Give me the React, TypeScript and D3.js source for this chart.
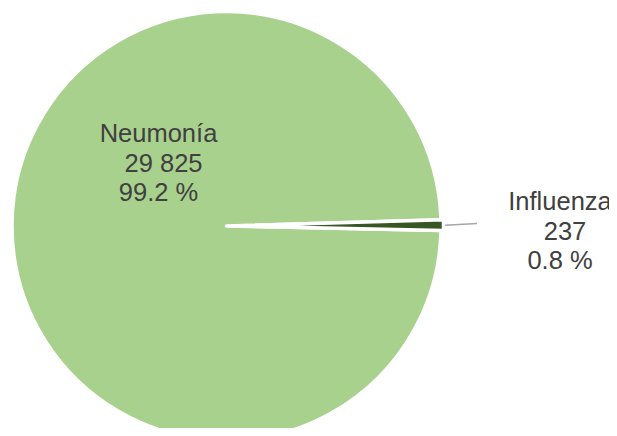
import React from "react";
import * as d3 from "d3";

const categories = ["Neumonía", "Influenza"];
const values = [29825, 237];
const percentLabels = ["99.2 %", "0.8 %"];
const colors = ["#a9d18e", "#375623"];

const W = 617;
const H = 436;

export default function App() {
  const cx = 226.5;
  const cy = 226;
  const r = 214.5;
  const start = (91.2 * Math.PI) / 180;
  const pie = d3
    .pie<number>()
    .sort(null)
    .value((d) => d)
    .startAngle(start)
    .endAngle(start + 2 * Math.PI);
  const arcs = pie(values);
  const arcGen = d3.arc<d3.PieArcDatum<number>>().innerRadius(0).outerRadius(r);
  const fmt = (v: number) => d3.format(",")(v).replace(/,/g, " ");
  const explode = [0, 2.5];

  // label anchor positions (absolute, center of text block / first baseline)
  const labelPos = [
    { x: 158.5, y: 142 },
    { x: 560, y: 210 },
  ];
  const lineGap = 29.5;

  const inf = arcs[1];
  const infMid = (inf.startAngle + inf.endAngle) / 2;

  return (
    <div style={{ margin: -8 }}>
      <svg width={W} height={H} style={{ display: "block" }}>
        <g transform={`translate(${cx},${cy})`}>
          {arcs.map((a, i) => {
            const mid = (a.startAngle + a.endAngle) / 2;
            const dx = Math.sin(mid) * explode[i];
            const dy = -Math.cos(mid) * explode[i];
            return (
              <path
                key={i}
                d={arcGen(a) || ""}
                transform={`translate(${dx},${dy})`}
                fill={colors[i]}
                stroke="#ffffff"
                strokeWidth={3.5}
                strokeLinejoin="round"
              />
            );
          })}
        </g>
        <line
          x1={cx + Math.sin(infMid) * (r + 4)}
          y1={cy - Math.cos(infMid) * (r + 4)}
          x2={477}
          y2={cy - 2.5}
          stroke="#a6a6a6"
          strokeWidth={1.5}
        />
        {categories.map((c, i) => (
          <text
            key={c}
            y={labelPos[i].y}
            textAnchor="middle"
            fill="#404040"
            fontFamily="'Liberation Sans', Arial, sans-serif"
            fontSize={25.5}
          >
            <tspan x={labelPos[i].x} dy={0}>
              {c}
            </tspan>
            <tspan x={labelPos[i].x + 5} dy={lineGap}>
              {fmt(values[i])}
            </tspan>
            <tspan x={labelPos[i].x} dy={lineGap}>
              {percentLabels[i]}
            </tspan>
          </text>
        ))}
      </svg>
    </div>
  );
}
